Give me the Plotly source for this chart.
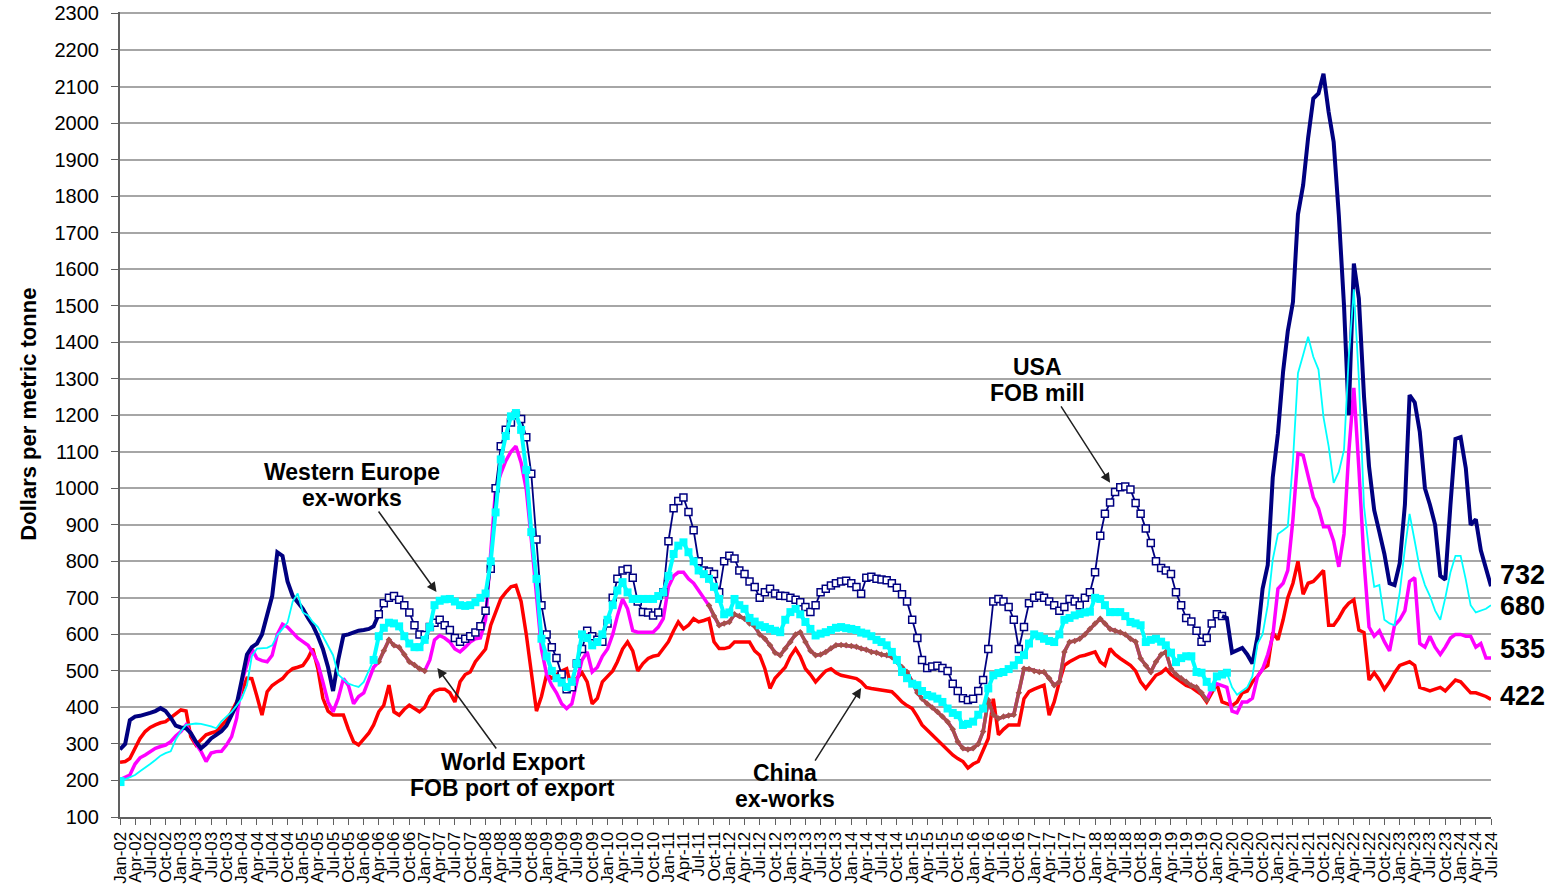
import pandas as pd
import plotly.graph_objects as go

# monthly prices, Jan-2002 .. Jul-2024, dollars per metric tonne
usa_fob_mill = [
    285, 300, 365, 375, 377, 380, 385, 390, 398, 390, 372, 350,
    345, 343, 330, 306, 288, 300, 315, 325, 335, 350, 378, 408,
    475, 545, 565, 575, 600, 650, 705, 825, 815, 745, 705, 688,
    670, 645, 625, 595, 560, 510, 445, 530, 597, 600, 606, 610,
    612, 615, 622, 655, 685, 700, 705, 695, 680, 660, 625, 600,
    598, 620, 632, 640, 625, 612, 590, 580, 588, 595, 605, 622,
    665, 780, 1000, 1115, 1160, 1180, 1200, 1190, 1140, 1040, 860, 680,
    600, 565, 535, 490, 450, 455, 520, 560, 610, 595, 585, 580,
    630, 700, 752, 775, 779, 755, 690, 661, 660, 652, 660, 715,
    855, 945, 965, 975, 935, 885, 800, 775, 772, 765, 715, 800,
    815, 808, 775, 765, 745, 730, 700, 715, 725, 712, 706, 705,
    700, 695, 688, 675, 661, 680, 715, 725, 734, 740, 745, 747,
    740, 730, 711, 755, 758, 752, 750, 748, 740, 728, 710, 690,
    640, 590, 530, 508, 512, 514, 508, 500, 465, 445, 425, 420,
    424, 445, 475, 560, 690, 697, 690, 675, 640, 560, 620, 685,
    700, 706, 700, 690, 680, 665, 675, 697, 690, 680, 700, 715,
    770, 870, 930, 961, 990, 1003, 1005, 997, 960, 930, 890, 850,
    800, 782, 775, 765, 715, 680, 645, 635, 610, 580, 590, 630,
    655, 650, 645, 550, 555, 563, 545, 520, 595, 725, 790, 1030,
    1150, 1320, 1430, 1510, 1750, 1830, 1960, 2067, 2081, 2135, 2030, 1948,
    1747, 1500, 1200, 1615, 1520, 1250, 1060, 940, 880, 820, 740, 735,
    795, 955, 1255, 1235, 1155, 1000, 955, 900, 760, 750, 955, 1135,
    1140, 1055, 900, 915, 830, 780, 732,
]

western_europe = [
    197, 203, 208, 215, 225, 234, 245, 256, 268, 275, 280, 312,
    335, 352, 354, 356, 355, 352, 348, 343, 362, 375, 388, 405,
    425, 461, 540, 561, 561, 563, 570, 598, 615, 632, 690, 712,
    660, 652, 634, 620, 595, 570, 543, 490, 476, 465, 460, 456,
    470, 500, 530, 595, 618, 632, 630, 622, 595, 575, 565, 565,
    585, 620, 680, 692, 696, 697, 690, 680, 678, 680, 688, 700,
    712, 800, 934, 1079, 1143, 1197, 1206, 1160, 1050, 880, 752, 588,
    540, 500, 480, 468, 456, 470, 520, 600, 590, 570, 579, 600,
    640, 680, 720, 743, 715, 697, 697, 697, 697, 697, 705, 715,
    760, 820, 843, 852, 825, 800, 775, 765, 752, 730, 697, 655,
    660, 697, 680, 670, 645, 635, 625, 620, 615, 610, 606, 640,
    661, 670, 655, 634, 615, 597, 602, 606, 612, 618, 620, 617,
    615, 612, 605, 602, 595, 585, 579, 570, 552, 530, 497, 480,
    465, 461, 445, 434, 430, 424, 415, 397, 385, 379, 352, 355,
    361, 380, 397, 452, 488, 494, 497, 505, 515, 530, 543, 575,
    600, 595, 588, 582, 579, 600, 640, 645, 652, 656, 660, 662,
    700, 697, 680, 661, 661, 661, 650, 634, 630, 625, 579, 585,
    588, 580, 570, 550, 524, 535, 540, 540, 497, 495, 470, 455,
    485, 490, 495, 455, 435, 445, 455, 485, 575, 600, 680, 805,
    875, 885, 895, 1075, 1315, 1365, 1415, 1360, 1325, 1195, 1115, 1015,
    1045, 1105, 1355, 1545, 1300, 950, 830, 730, 735, 640, 630, 625,
    715, 835, 930, 855, 780, 735, 705, 665, 640, 700, 770, 815,
    815, 750, 680, 660, 665, 670, 680,
]

world_export = [
    202, 208, 215, 245, 262, 270, 280, 288, 293, 297, 306, 322,
    334, 352, 330, 300, 280, 252, 275, 279, 280, 297, 320, 370,
    470, 515, 561, 534, 528, 525, 543, 600, 628, 620, 606, 590,
    580, 570, 550, 520, 470, 415, 388, 425, 479, 460, 410, 430,
    440, 479, 510, 525, 555, 585, 570, 565, 545, 525, 516, 506,
    500, 530, 585, 597, 590, 579, 560, 552, 565, 579, 588, 590,
    640, 820, 997, 1040, 1075, 1100, 1115, 1070, 997, 861, 700, 560,
    490, 460, 440, 410, 397, 410, 470, 530, 552, 497, 510, 540,
    560, 600, 650, 697, 670, 610, 606, 606, 606, 606, 620, 643,
    730, 760, 770, 770, 752, 740, 720, 700, 679, 650, 625, 630,
    634, 655, 650, 643, 630, 622, 600, 588, 570, 550, 543, 561,
    579, 600, 606, 579, 555, 543, 545, 552, 562, 570, 571, 570,
    568, 566, 561, 558, 552, 550, 545, 543, 538, 525, 510, 497,
    470, 440, 424, 410, 400, 388, 375, 361, 340, 306, 288, 285,
    288, 300, 334, 420, 380, 370, 375, 378, 380, 440, 506, 505,
    500, 497, 497, 480, 461, 470, 552, 579, 582, 588, 600, 615,
    630, 643, 630, 615, 610, 606, 600, 588, 580, 534, 515, 497,
    525, 545, 552, 506, 490, 480, 470, 460, 455, 440, 420, 450,
    465, 460, 455, 390, 385, 415, 415, 425, 485, 505, 545, 595,
    725, 740, 775, 915, 1095, 1090, 1035, 975, 945, 895, 895, 855,
    785, 875, 1095, 1275, 1055, 800, 620, 595, 610, 580, 555, 625,
    640, 665, 745, 755, 575, 565, 595, 565, 545, 565, 590, 600,
    600, 595, 595, 565, 575, 535, 535,
]

china_ex_works = [
    250, 252, 260, 290, 315, 334, 345, 352, 358, 361, 372, 385,
    393, 390, 320, 297, 310, 325, 330, 334, 350, 365, 388, 415,
    443, 480, 479, 430, 379, 443, 460, 470, 479, 495, 506, 510,
    515, 535, 561, 506, 425, 390, 379, 379, 379, 340, 306, 297,
    312, 330, 352, 388, 406, 461, 388, 379, 395, 406, 397, 388,
    400, 430, 445, 450, 450, 440, 415, 470, 490, 497, 525, 543,
    560, 625, 660, 697, 715, 730, 734, 690, 600, 500, 390, 430,
    490, 480, 490, 500, 506, 450, 480, 495, 470, 410, 425, 470,
    485, 500, 525, 560, 579, 555, 500, 520, 534, 540, 543, 560,
    580, 610, 634, 615, 625, 643, 634, 638, 643, 580, 561, 561,
    565, 579, 579, 579, 579, 555, 543, 506, 452, 480, 497, 510,
    540, 561, 540, 506, 490, 470, 485, 500, 506, 495, 488, 485,
    482, 479, 470, 455, 452, 450, 447, 445, 443, 430, 415, 405,
    397, 375, 352, 338, 325, 310, 297, 283, 270, 260, 252, 234,
    245, 252, 280, 315, 424, 325, 340, 352, 352, 352, 424, 443,
    450, 455, 461, 379, 415, 470, 515, 525, 534, 540, 543, 548,
    552, 525, 515, 561, 545, 534, 525, 515, 500, 470, 452, 470,
    488, 495, 506, 490, 479, 470, 460, 455, 445, 435, 415, 440,
    465, 415, 410, 405, 415, 440, 445, 470, 485, 505, 515, 605,
    585, 640, 700, 740, 800, 710, 740, 745, 760, 775, 625, 625,
    645, 670, 685, 695, 612, 605, 475, 495, 475, 450, 470, 495,
    515, 520, 525, 515, 455, 450, 445, 450, 455, 445, 460, 475,
    470, 455, 440, 440, 435, 430, 422,
]

months = pd.date_range("2002-01-01", periods=len(usa_fob_mill), freq="MS")

# where the series change style (index into months)
usa_marker_span = (51, 217)
we_marker_span = (50, 218)
brown_spans = [(51, 60), (116, 214)]

NAVY = "#000080"
CYAN = "#00FFFF"
MAGENTA = "#FF00FF"
BROWN = "#A5504B"
RED = "#FF0000"
FONT = "Liberation Sans, Arial, sans-serif"

fig = go.Figure()

fig.add_trace(go.Scatter(x=months, y=china_ex_works, mode="lines",
                         line=dict(color=RED, width=3.5)))
fig.add_trace(go.Scatter(x=months, y=world_export, mode="lines",
                         line=dict(color=MAGENTA, width=3.5)))
for a, b in brown_spans:
    fig.add_trace(go.Scatter(x=months[a:b + 1], y=world_export[a:b + 1],
                             mode="lines+markers",
                             line=dict(color=BROWN, width=3.5),
                             marker=dict(symbol="diamond", size=5, color=BROWN)))

a, b = usa_marker_span
fig.add_trace(go.Scatter(x=months[:a + 1], y=usa_fob_mill[:a + 1], mode="lines",
                         line=dict(color=NAVY, width=4)))
fig.add_trace(go.Scatter(x=months[a:b + 1], y=usa_fob_mill[a:b + 1],
                         mode="lines+markers",
                         line=dict(color=NAVY, width=1.8),
                         marker=dict(symbol="square", size=7, color="white",
                                     line=dict(color=NAVY, width=1.5))))
fig.add_trace(go.Scatter(x=months[b:], y=usa_fob_mill[b:], mode="lines",
                         line=dict(color=NAVY, width=4)))

a, b = we_marker_span
fig.add_trace(go.Scatter(x=months[:a + 1], y=western_europe[:a + 1], mode="lines",
                         line=dict(color=CYAN, width=1.8)))
fig.add_trace(go.Scatter(x=months[:1], y=western_europe[:1], mode="markers",
                         marker=dict(symbol="square", size=9, color=CYAN)))
fig.add_trace(go.Scatter(x=months[a:b + 1], y=western_europe[a:b + 1],
                         mode="lines+markers",
                         line=dict(color=CYAN, width=4),
                         marker=dict(symbol="square", size=8, color=CYAN)))
fig.add_trace(go.Scatter(x=months[b:], y=western_europe[b:], mode="lines",
                         line=dict(color=CYAN, width=1.8)))

# series labels (two lines each) with arrows
labels = [
    (("USA", "FOB mill"), "2017-01-18", 1297),
    (("Western Europe", "ex-works"), "2005-10-20", 1010),
    (("World Export", "FOB port of export"), "2008-06-12", 214),
    (("China", "ex-works"), "2012-12-01", 184),
]
arrows = [
    ("2018-04-01", 1015, -50, -78),
    ("2007-03-13", 716, -59, -82),
    ("2007-03-18", 508, 60, 82),
    ("2014-03-01", 453, -47, 74),
]
annotations = []
for (line1, line2), x, y in labels:
    for txt, shift in ((line1, 13), (line2, -13)):
        annotations.append(dict(x=x, y=y, yshift=shift, text=f"<b>{txt}</b>",
                                showarrow=False,
                                font=dict(family=FONT, size=23, color="black")))
for x, y, ax, ay in arrows:
    annotations.append(dict(x=x, y=y, text="", showarrow=True, ax=ax, ay=ay,
                            arrowhead=2, arrowsize=1.3, arrowwidth=1.5,
                            arrowcolor="#202020"))

# latest values at the right edge
end_values = [usa_fob_mill[-1], western_europe[-1], world_export[-1], china_ex_works[-1]]
end_label_y = [763, 678, 560, 431]
for v, y in zip(end_values, end_label_y):
    annotations.append(dict(xref="paper", x=1.005, y=y, xanchor="left",
                            text=f"<b>{v}</b>", showarrow=False,
                            font=dict(family=FONT, size=27, color="black")))

annotations.append(dict(xref="paper", yref="paper", x=-0.067, y=0.5,
                        xanchor="center", yanchor="middle",
                        text="<b>Dollars per metric tonne</b>", textangle=-90,
                        showarrow=False,
                        font=dict(family=FONT, size=22, color="black")))

fig.update_layout(
    width=1567,
    height=891,
    margin=dict(l=120, r=76, t=12, b=74),
    paper_bgcolor="white",
    plot_bgcolor="white",
    showlegend=False,
    font=dict(family=FONT, color="black"),
    annotations=annotations,
)
fig.update_xaxes(
    range=["2002-01-01", "2024-07-01"],
    tick0="2002-01-01",
    dtick="M3",
    tickformat="%b-%y",
    tickangle=-90,
    ticks="outside",
    ticklen=6,
    tickcolor="#606060",
    tickfont=dict(family=FONT, size=17, color="black"),
    showline=True,
    linecolor="#606060",
    linewidth=2,
    showgrid=False,
    zeroline=False,
    automargin=False,
    ticklabeloverflow="allow",
)
fig.update_yaxes(
    range=[100, 2304],
    tick0=100,
    dtick=100,
    ticks="outside",
    ticklen=7,
    tickcolor="#606060",
    tickfont=dict(family=FONT, size=20, color="black"),
    ticklabelstandoff=8,
    ticklabeloverflow="allow",
    showline=True,
    linecolor="#606060",
    linewidth=2,
    gridcolor="#A6A6A6",
    gridwidth=2,
    zeroline=False,
    automargin=False,
)

# the page's default body margin would push the chart 8px right and down
fig.write_html("out.html", config={"displayModeBar": False},
               post_script="document.body.style.margin = '0';")
